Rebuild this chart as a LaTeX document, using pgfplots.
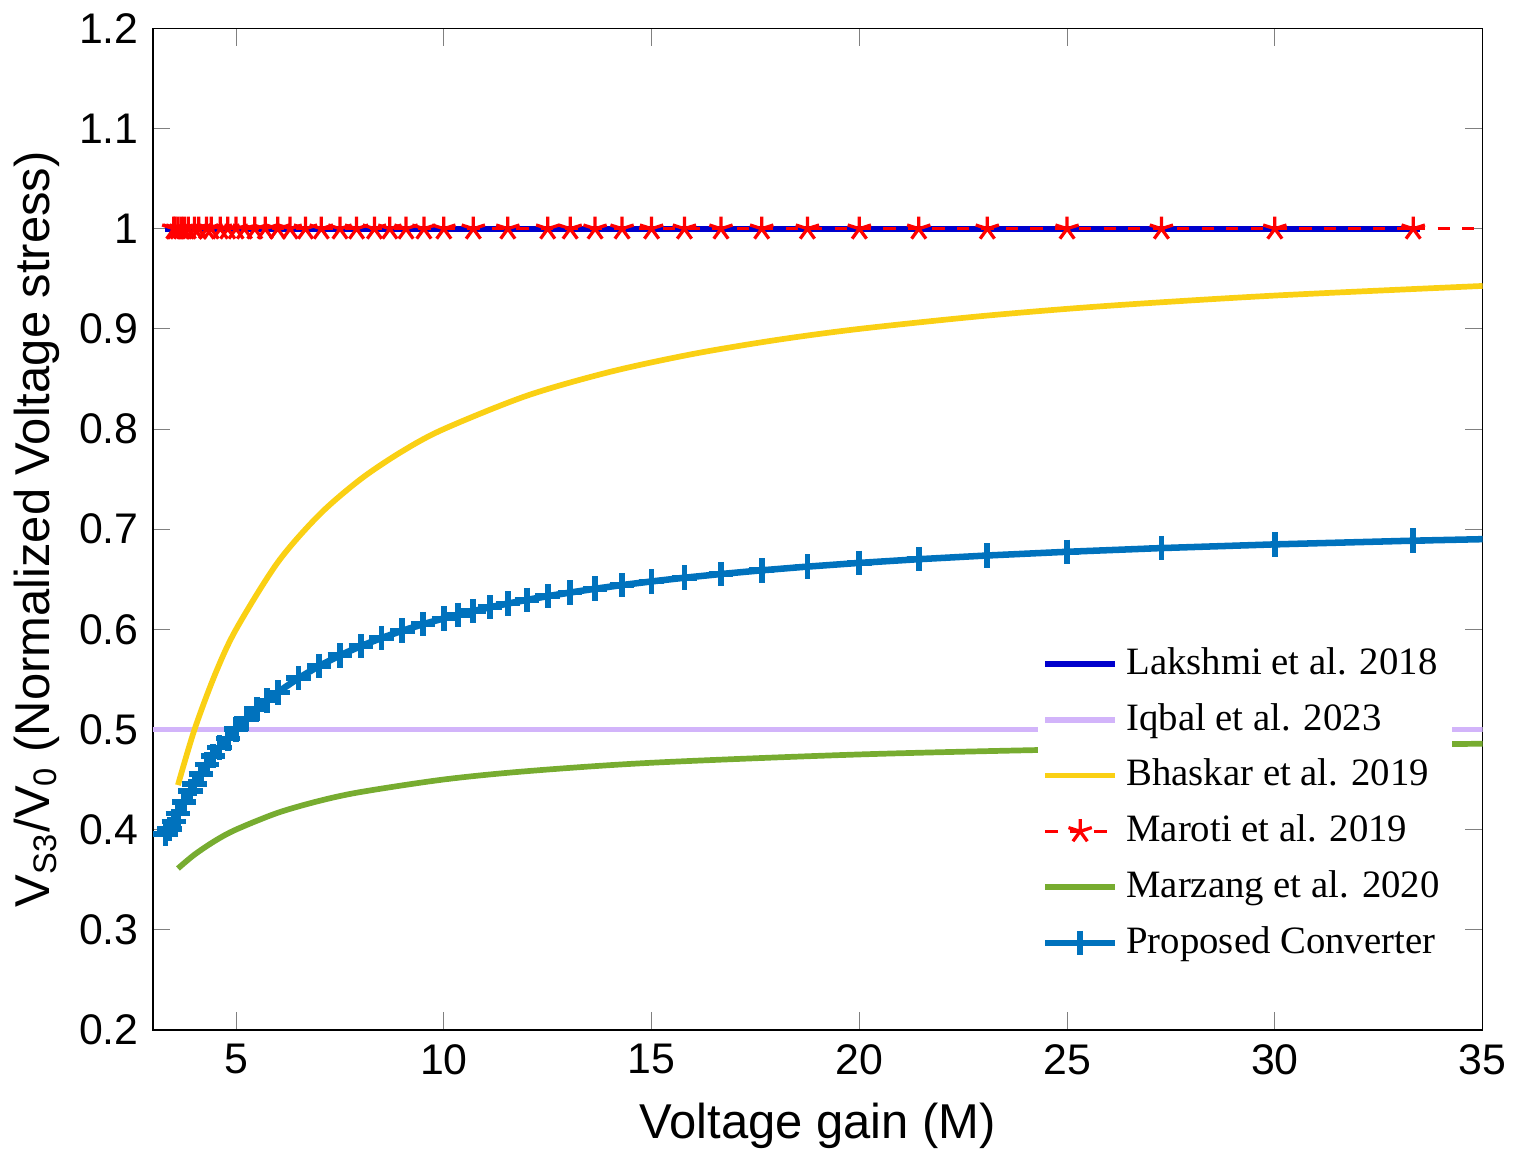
\documentclass[border=0pt]{standalone}
\usepackage{fontspec}
\setmainfont{Liberation Sans}
\newfontfamily\seriffont{Liberation Serif}
\usepackage{pgfplots}
\pgfplotsset{compat=1.18}
\definecolor{mblue}{RGB}{0,114,189}
\definecolor{mgreen}{RGB}{119,172,48}
\definecolor{myel}{RGB}{250,208,20}
\definecolor{mlav}{RGB}{210,180,250}
\begin{document}
\begin{tikzpicture}
\begin{axis}[
  scale only axis, width=326pt, height=245.5pt,
  xmin=3, xmax=35, ymin=0.2, ymax=1.2,
  xtick={5,10,...,35}, ytick={0.2,0.3,...,1.2},
  /pgf/number format/assume math mode=true,
  tick label style={font=\fontsize{10.5}{12}\selectfont},
  label style={font=\fontsize{12}{14}\selectfont},
  xlabel={Voltage gain (M)},
  ylabel={V\textsubscript{S3}/V\textsubscript{0} (Normalized Voltage stress)},
  ylabel style={yshift=-2pt},
  legend style={at={(0.665,0.395)}, anchor=north west, draw=none, fill=white,
    font=\seriffont\fontsize{9.5}{11}\selectfont, row sep=1.6pt, inner sep=1pt},
  legend cell align=left,
]
\addplot[blue!80!black, line width=1.6pt] coordinates {(3.3,1) (33.5,1)};
\addlegendentry{Lakshmi et al. 2018}
\addplot[mlav, line width=1.4pt] coordinates {(3,0.5) (35,0.5)};
\addlegendentry{Iqbal et al. 2023}
\addplot[myel, line width=1.4pt, smooth] coordinates {
(3.6,0.4444) (4,0.5) (4.5,0.5556) (5,0.6) (6,0.6667) (7,0.7143) (8,0.75) (9,0.7778) (10,0.8) (12,0.8333) (14,0.8571) (16,0.875) (18,0.8889) (20,0.9) (23,0.913) (26,0.9231) (30,0.9333) (35,0.9429)};
\addlegendentry{Bhaskar et al. 2019}
\addplot[red, line width=0.8pt, dashed, mark=star, mark size=3pt, mark options={solid}] coordinates {
(3.5,1) (3.53,1) (3.6,1) (3.68,1) (3.75,1) (3.85,1) (4,1) (4.1,1) (4.29,1) (4.4,1) (4.62,1) (4.8,1) (5,1) (5.2,1) (5.45,1) (5.7,1) (6,1) (6.3,1) (6.67,1) (7.05,1) (7.5,1) (7.9,1) (8.33,1) (8.7,1) (9.09,1) (9.52,1) (10,1) (10.71,1) (11.54,1) (12.5,1) (13.04,1) (13.64,1) (14.29,1) (15,1) (15.79,1) (16.67,1) (17.65,1) (18.75,1) (20,1) (21.43,1) (23.08,1) (25,1) (27.27,1) (30,1) (33.33,1)};
\addlegendentry{Maroti et al. 2019}
\addplot[red, line width=0.8pt, dashed, forget plot] coordinates {(33.33,1) (35,1)};
\addplot[mgreen, line width=1.4pt, smooth] coordinates {
(3.6,0.3611) (4,0.375) (4.5,0.3889) (5,0.4) (6,0.4167) (7,0.4286) (8,0.4375) (10,0.45) (12,0.4583) (15,0.4667) (20,0.475) (25,0.48) (30,0.4833) (35,0.4857)};
\addlegendentry{Marzang et al. 2020}
\addplot[mblue, line width=1.6pt, mark=+, mark size=3pt, mark options={line width=1.4pt}] coordinates {
(3.3,0.3959) (3.4,0.4008) (3.5,0.4081) (3.6,0.4159) (3.75,0.4272) (3.9,0.4386) (4,0.4457) (4.15,0.4557) (4.3,0.4650) (4.45,0.4737) (4.6,0.4818) (4.8,0.4909) (5,0.5001) (5.25,0.5107) (5.5,0.5202) (5.75,0.5290) (6,0.5370) (6.5,0.5512) (7,0.5634) (7.5,0.5740) (8,0.5832) (8.5,0.5913) (9,0.5986) (9.5,0.6051) (10,0.6109) (10.34,0.6145) (10.71,0.6182) (11.11,0.6220) (11.54,0.6257) (12,0.6294) (12.5,0.6331) (13.04,0.6367) (13.64,0.6405) (14.29,0.6442) (15,0.6478) (15.79,0.6515) (16.67,0.6552) (17.65,0.6589) (18.75,0.6626) (20,0.6663) (21.43,0.6700) (23.08,0.6737) (25,0.6774) (27.27,0.6811) (30,0.6848) (33.33,0.6885)};
\addlegendentry{Proposed Converter}
\addplot[mblue, line width=1.6pt, forget plot] coordinates {(33.33,0.6885) (35,0.690)};
\end{axis}
\end{tikzpicture}
\end{document}
